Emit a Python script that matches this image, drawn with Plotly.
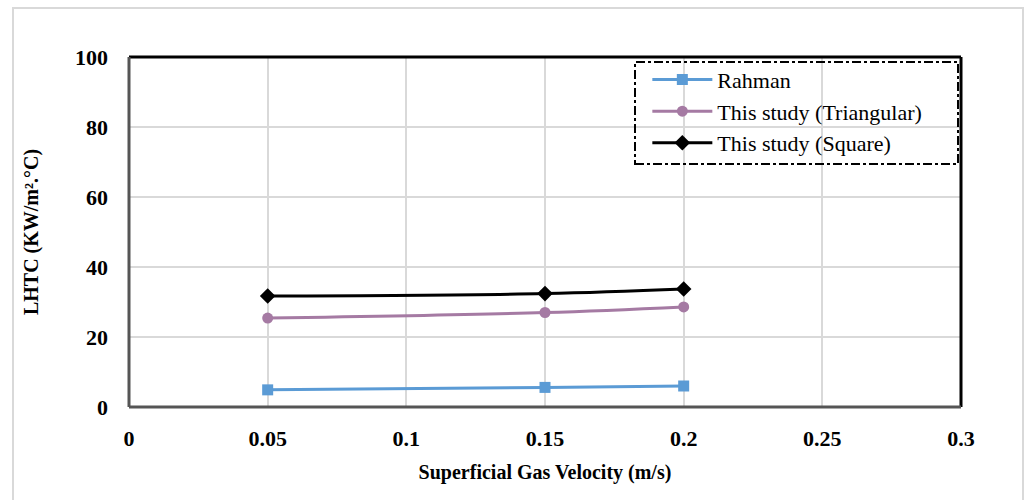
import plotly.graph_objects as go

velocity = [0.05, 0.15, 0.2]
rahman = [4.9, 5.6, 6.0]
triangular = [25.4, 27.0, 28.6]
square = [31.7, 32.4, 33.7]

x_ticks = [0, 0.05, 0.1, 0.15, 0.2, 0.25, 0.3]
x_tick_text = ["0", "0.05", "0.1", "0.15", "0.2", "0.25", "0.3"]
y_ticks = [0, 20, 40, 60, 80, 100]

FONT = "Liberation Serif, Times New Roman, serif"

fig = go.Figure()
fig.add_trace(go.Scatter(x=velocity, y=rahman, name="Rahman", mode="lines+markers",
                         line=dict(color="#5b9bd5", width=3, shape="spline"),
                         marker=dict(symbol="square", size=11, color="#5b9bd5")))
fig.add_trace(go.Scatter(x=velocity, y=triangular, name="This study (Triangular)", mode="lines+markers",
                         line=dict(color="#a57aa3", width=3, shape="spline"),
                         marker=dict(symbol="circle", size=11, color="#a57aa3")))
fig.add_trace(go.Scatter(x=velocity, y=square, name="This study (Square)", mode="lines+markers",
                         line=dict(color="#000000", width=3, shape="spline"),
                         marker=dict(symbol="diamond", size=12, color="#000000")))

fig.update_layout(
    width=1027, height=500,
    margin=dict(l=129, r=66, t=57, b=93),
    paper_bgcolor="white", plot_bgcolor="white",
    font=dict(family=FONT, color="black"),
    showlegend=True,
    legend=dict(x=0.623, y=0.995, xanchor="left", yanchor="top",
                bgcolor="rgba(0,0,0,0)", borderwidth=0,
                font=dict(family=FONT, size=22, color="black"),
                itemwidth=60, tracegroupgap=0),
    xaxis=dict(range=[0, 0.3], tickvals=x_ticks, ticktext=x_tick_text,
               showgrid=True, gridcolor="#d9d9d9", gridwidth=1.5,
               zeroline=False, showline=False, ticks="", ticklen=0,
               ticklabelstandoff=16,
               tickfont=dict(family=FONT, size=22, color="black", weight="bold"),
               title=dict(text="<b>Superficial Gas Velocity (m/s)</b>",
                          font=dict(family=FONT, size=20, color="black"), standoff=14)),
    yaxis=dict(range=[0, 100], tickvals=y_ticks,
               showgrid=True, gridcolor="#d9d9d9", gridwidth=1.5,
               zeroline=False, showline=False, ticks="", ticklen=0,
               ticklabelstandoff=20,
               tickfont=dict(family=FONT, size=22, color="black", weight="bold"),
               title=dict(text="<b>LHTC (KW/m².°C)</b>",
                          font=dict(family=FONT, size=20, color="black"), standoff=31)),
)

# Plot area frame
fig.add_shape(type="line", xref="paper", yref="paper", x0=0, x1=1, y0=1, y1=1,
              line=dict(color="black", width=3))
fig.add_shape(type="line", xref="paper", yref="paper", x0=1, x1=1, y0=0, y1=1,
              line=dict(color="black", width=3))
fig.add_shape(type="line", xref="paper", yref="paper", x0=0, x1=0, y0=0, y1=1,
              line=dict(color="#555555", width=3))
fig.add_shape(type="line", xref="paper", yref="paper", x0=0, x1=1, y0=0, y1=0,
              line=dict(color="#555555", width=3))

# Legend dash-dot box (pixel -> paper)
def px_x(p):
    return (p - 129) / (961 - 129)

def px_y(p):
    return (407 - p) / (407 - 57)

fig.add_shape(type="rect", xref="paper", yref="paper",
              x0=px_x(635), x1=px_x(958), y0=px_y(164), y1=px_y(62),
              line=dict(color="black", width=2, dash="dashdot"))

# Outer light border of the chart
fig.add_shape(type="rect", xref="paper", yref="paper",
              x0=px_x(13), x1=px_x(1023), y0=px_y(520), y1=px_y(8),
              line=dict(color="#d9d9d9", width=2))

fig.write_html("out.html")
